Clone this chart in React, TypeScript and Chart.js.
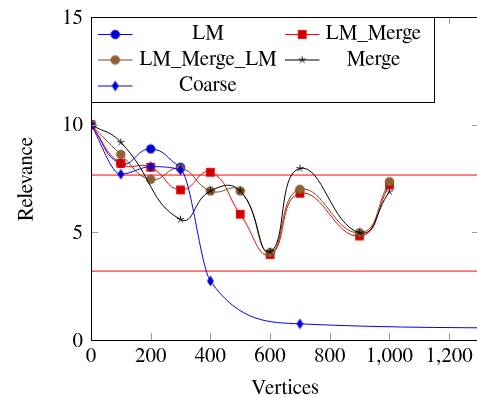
import { useEffect, useRef, useState } from 'react';
import { Chart, registerables } from 'chart.js';
Chart.register(...registerables);

// ---- data ----
const lmX = [0, 100, 200, 300];
const lmY = [10, 8.2, 8.87, 8.02];
const lmMergeX = [0, 100, 200, 300, 400, 500, 600, 700, 900, 1000];
const lmMergeY = [10, 8.2, 8.02, 6.97, 7.79, 5.84, 3.97, 6.81, 4.83, 7.2];
const lmMergeLmY = [10, 8.62, 7.46, 7.97, 6.92, 6.92, 4.06, 7.0, 4.98, 7.35];
const mergeX = [0, 100, 300, 400, 500, 600, 700, 900, 1000];
const mergeY = [10, 9.18, 5.6, 6.92, 6.92, 4.1, 7.97, 4.98, 6.89];
const coarseX = [0, 100, 200, 300, 400, 700, 1600];
const coarseY = [10, 7.7, 8.05, 7.9, 2.74, 0.75, 0.55];
const refLineValues = [7.66, 3.2];
const legendLabels = ['LM', 'LM_Merge', 'LM_Merge_LM', 'Merge', 'Coarse'];
const xTitle = 'Vertices';
const yTitle = 'Relevance';
const xRange = [0, 1300];
const yRange = [0, 15];
const xStep = 200;
const yStep = 5;

const FONT_FAMILY = '"FreeSerif", "Liberation Serif", "Times New Roman", serif';
const FONT_SIZE = 21;
const BASE_SHIFT = 7.2; // baseline offset for line-height:0 boxes
const BLUE = '#0000ff';
const BLUE_FILL = 'rgb(0,0,204)';
const RED = '#ff0000';
const RED_FILL = 'rgb(204,0,0)';
const BROWN = 'rgb(115,77,38)';
const BROWN_FILL = 'rgb(153,102,51)';

const pts = (xs: number[], ys: number[]) => xs.map((x, i) => ({ x, y: ys[i] }));

type Label = { text: string; x: number; y: number; align: 'center' | 'right'; rotate?: boolean };

function marker(w: number, h: number, draw: (c: CanvasRenderingContext2D) => void) {
  const cv = document.createElement('canvas');
  cv.width = w;
  cv.height = h;
  const c = cv.getContext('2d')!;
  c.translate(w / 2, h / 2);
  draw(c);
  return cv;
}

function makeMarkers() {
  const circle = marker(11, 11, (c) => {
    c.beginPath();
    c.arc(0, 0, 4.3, 0, Math.PI * 2);
    c.fillStyle = BLUE_FILL;
    c.fill();
    c.strokeStyle = BLUE;
    c.lineWidth = 0.8;
    c.stroke();
  });
  const square = marker(11, 11, (c) => {
    c.fillStyle = RED_FILL;
    c.fillRect(-4, -4, 8, 8);
    c.strokeStyle = RED;
    c.lineWidth = 0.8;
    c.strokeRect(-4, -4, 8, 8);
  });
  const otimes = marker(11, 11, (c) => {
    c.beginPath();
    c.arc(0, 0, 4.3, 0, Math.PI * 2);
    c.fillStyle = BROWN_FILL;
    c.fill();
    c.strokeStyle = BROWN;
    c.lineWidth = 0.8;
    c.stroke();
    const d = 4.3 * Math.SQRT1_2;
    c.beginPath();
    c.moveTo(-d, -d);
    c.lineTo(d, d);
    c.moveTo(-d, d);
    c.lineTo(d, -d);
    c.lineWidth = 0.6;
    c.stroke();
  });
  const star = marker(11, 11, (c) => {
    c.beginPath();
    for (let k = 0; k < 5; k++) {
      const a = -Math.PI / 2 + (k * 2 * Math.PI) / 5;
      c.moveTo(0, 0);
      c.lineTo(3.8 * Math.cos(a), 3.8 * Math.sin(a));
    }
    c.strokeStyle = '#000';
    c.lineWidth = 0.9;
    c.stroke();
  });
  const diamond = marker(9, 13, (c) => {
    c.beginPath();
    c.moveTo(0, -4.8);
    c.lineTo(3, 0);
    c.lineTo(0, 4.8);
    c.lineTo(-3, 0);
    c.closePath();
    c.fillStyle = BLUE_FILL;
    c.fill();
    c.strokeStyle = BLUE;
    c.lineWidth = 0.8;
    c.stroke();
  });
  return [circle, square, otimes, star, diamond];
}

const legendCols = [
  { x0: 98, x1: 132.5, tc: 208 },
  { x0: 285, x1: 319.5, tc: 373.5 },
];
const legendRows = [34.5, 60, 86];
const legendBaselines = [40, 65.5, 91.5];

export default function App() {
  const ref = useRef<HTMLCanvasElement | null>(null);
  const [labels, setLabels] = useState<Label[]>([]);

  useEffect(() => {
    if (!ref.current) return;
    const marks = makeMarkers();
    const colors = [BLUE, RED, BROWN, '#000', BLUE];
    const series = [
      pts(lmX, lmY),
      pts(lmMergeX, lmMergeY),
      pts(lmMergeX, lmMergeLmY),
      pts(mergeX, mergeY),
      pts(coarseX, coarseY),
    ];
    const datasets: any[] = series.map((data, i) => ({
      label: legendLabels[i],
      data,
      borderColor: colors[i],
      backgroundColor: colors[i],
      borderWidth: 1,
      tension: 0.5,
      cubicInterpolationMode: i === 4 ? 'monotone' : 'default',
      pointStyle: marks[i],
      pointRadius: 4,
      pointBorderWidth: 0,
      order: 10 - i,
    }));
    refLineValues.forEach((v, i) => {
      datasets.push({
        label: 'ref' + i,
        data: [
          { x: -100, y: v },
          { x: 2000, y: v },
        ],
        borderColor: RED,
        borderWidth: 1,
        pointRadius: 0,
        tension: 0,
        order: 20,
      });
    });

    const framePlugin = {
      id: 'frame',
      afterDatasetsDraw(ch: any) {
        const { ctx, chartArea: a, scales } = ch;
        ctx.save();
        ctx.strokeStyle = '#9a9a9a';
        ctx.lineWidth = 1;
        const tl = 7;
        ctx.beginPath();
        scales.x.ticks.forEach((t: any) => {
          const px = Math.round(scales.x.getPixelForValue(t.value)) + 0.5;
          ctx.moveTo(px, a.bottom);
          ctx.lineTo(px, a.bottom - tl);
          ctx.moveTo(px, a.top);
          ctx.lineTo(px, a.top + tl);
        });
        scales.y.ticks.forEach((t: any) => {
          const py = Math.round(scales.y.getPixelForValue(t.value)) + 0.5;
          ctx.moveTo(a.left, py);
          ctx.lineTo(a.left + tl, py);
          ctx.moveTo(a.right, py);
          ctx.lineTo(a.right - tl, py);
        });
        ctx.stroke();
        ctx.strokeStyle = '#000';
        ctx.strokeRect(
          Math.round(a.left) + 0.5,
          Math.round(a.top) + 0.5,
          Math.round(a.right - a.left),
          Math.round(a.bottom - a.top)
        );
        ctx.restore();
      },
      afterDraw(ch: any) {
        const { ctx } = ch;
        ctx.save();
        ctx.fillStyle = '#fff';
        ctx.fillRect(91.5, 17.5, 343, 85);
        ctx.strokeStyle = '#000';
        ctx.lineWidth = 1;
        ctx.strokeRect(91.5, 17.5, 343, 85);
        legendLabels.forEach((_, i) => {
          const col = legendCols[i % 2];
          const ry = legendRows[Math.floor(i / 2)];
          ctx.beginPath();
          ctx.moveTo(col.x0, ry);
          ctx.lineTo(col.x1, ry);
          ctx.strokeStyle = colors[i];
          ctx.lineWidth = 1;
          ctx.stroke();
          const m = marks[i];
          const cx = (col.x0 + col.x1) / 2;
          ctx.drawImage(m, cx - m.width / 2, ry - m.height / 2);
        });
        ctx.restore();
      },
    };

    const chart = new Chart(ref.current, {
      type: 'line',
      data: { datasets },
      options: {
        animation: false,
        responsive: false,
        layout: { padding: { top: 17, right: 11, left: 0, bottom: 0 } },
        plugins: { legend: { display: false }, tooltip: { enabled: false } },
        scales: {
          x: {
            type: 'linear',
            min: xRange[0],
            max: xRange[1],
            grid: { display: false, drawTicks: false },
            border: { display: false },
            ticks: { stepSize: xStep, includeBounds: false, autoSkip: false, display: false },
            title: { display: false },
            afterFit: (s: any) => {
              s.height = 57;
            },
          },
          y: {
            type: 'linear',
            min: yRange[0],
            max: yRange[1],
            grid: { display: false, drawTicks: false },
            border: { display: false },
            ticks: { stepSize: yStep, display: false },
            title: { display: false },
            afterFit: (s: any) => {
              s.width = 91;
            },
          },
        },
      },
      plugins: [framePlugin],
    });

    const fmt = (v: number) => Number(v).toLocaleString('en-US');
    const a = chart.chartArea;
    const sx: any = chart.scales.x;
    const sy: any = chart.scales.y;
    const out: Label[] = [];
    sx.ticks.forEach((t: any) =>
      out.push({ text: fmt(t.value), x: sx.getPixelForValue(t.value), y: a.bottom + 23.3, align: 'center' })
    );
    sy.ticks.forEach((t: any) =>
      out.push({ text: fmt(t.value), x: a.left - 8, y: sy.getPixelForValue(t.value) + 7.7, align: 'right' })
    );
    out.push({ text: xTitle, x: (a.left + a.right) / 2, y: 395, align: 'center' });
    out.push({ text: yTitle, x: 33, y: (a.top + a.bottom) / 2 + 0.5, align: 'center', rotate: true });
    legendLabels.forEach((lab, i) => {
      out.push({ text: lab, x: legendCols[i % 2].tc, y: legendBaselines[Math.floor(i / 2)], align: 'center' });
    });
    setLabels(out);

    return () => chart.destroy();
  }, []);

  return (
    <div
      style={{
        position: 'fixed',
        left: 0,
        top: 0,
        width: 477,
        height: 397,
        overflow: 'hidden',
        background: '#fff',
      }}
    >
      <canvas ref={ref} width={490} height={397} style={{ display: 'block' }} />
      {labels.map((l, i) => {
        const tx = l.align === 'center' ? '-50%' : '-100%';
        const transform = l.rotate
          ? `rotate(-90deg) translate(${tx}, ${-BASE_SHIFT}px)`
          : `translate(${tx}, ${-BASE_SHIFT}px)`;
        return (
          <div
            key={i}
            style={{
              position: 'absolute',
              left: l.x,
              top: l.y,
              lineHeight: 0,
              whiteSpace: 'nowrap',
              fontFamily: FONT_FAMILY,
              fontSize: FONT_SIZE,
              color: '#000',
              transformOrigin: '0 0',
              transform,
            }}
          >
            {l.text}
          </div>
        );
      })}
    </div>
  );
}
